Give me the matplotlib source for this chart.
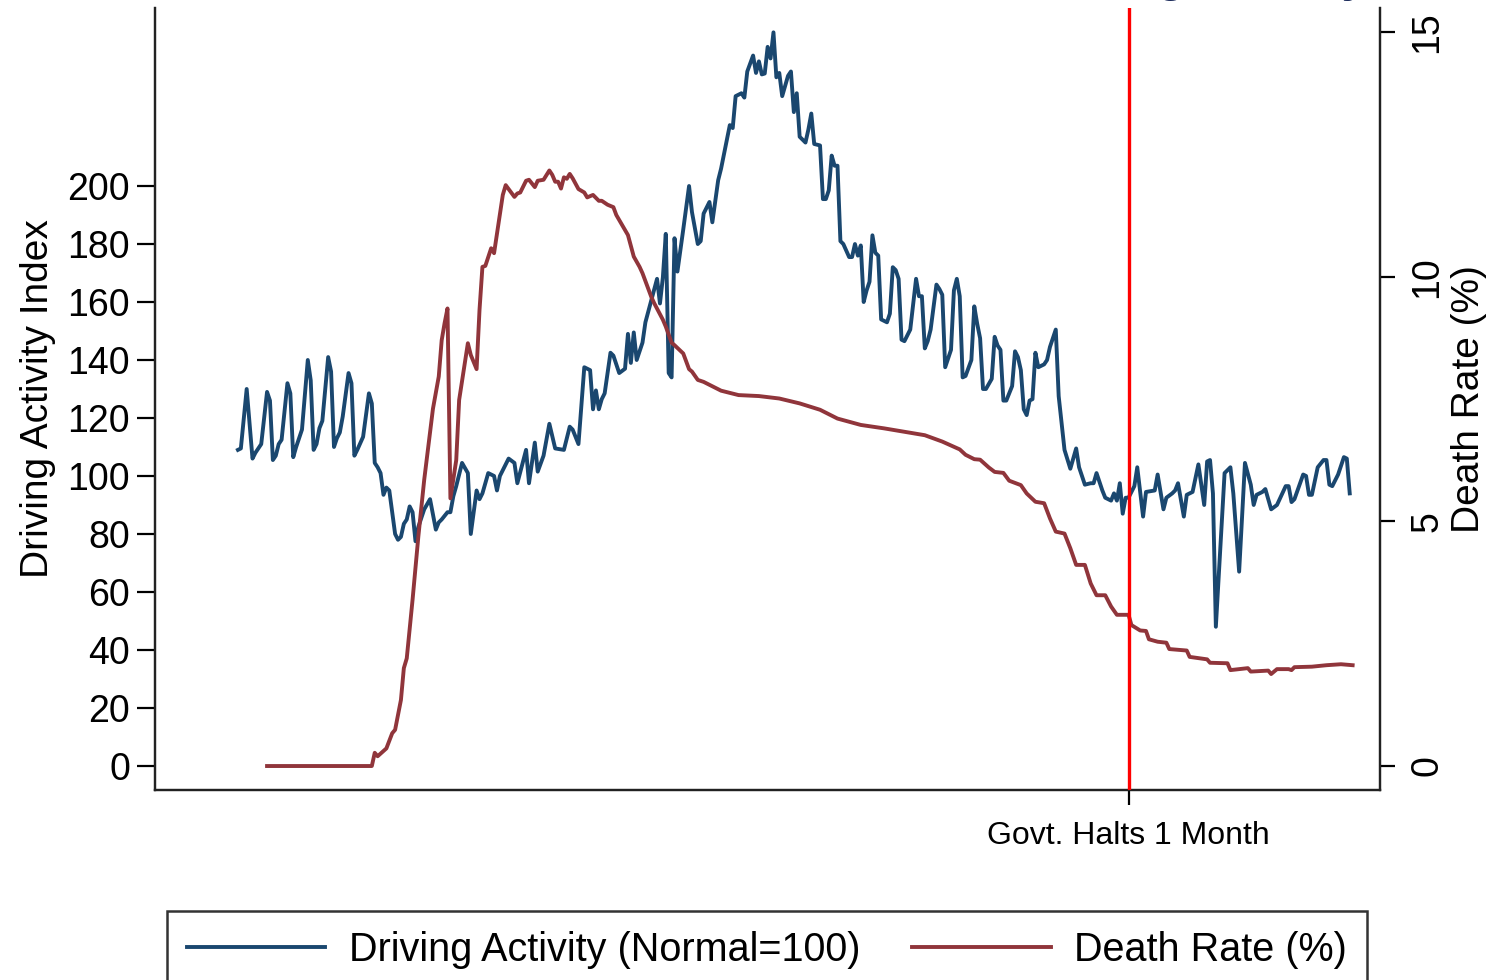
import numpy as np
import matplotlib
matplotlib.use("Agg")
import matplotlib.pyplot as plt

plt.rcParams['font.family'] = ['Liberation Sans', 'DejaVu Sans']

# driving activity index (Normal=100), days since start of series
drive_day = [0, 1, 3, 5, 6, 8, 10, 11, 12, 13, 14, 15, 17, 18, 19, 20, 22, 24, 25, 26,
             27, 28, 29, 31, 32, 33, 34, 35, 36, 38, 39, 40, 41, 43, 45, 46, 47, 48, 49, 50,
             51, 52, 54, 55, 56, 57, 58, 59, 60, 61, 62, 64, 66, 68, 69, 70, 72, 73, 74, 75,
             77, 79, 80, 82, 83, 84, 86, 88, 89, 90, 91, 93, 95, 96, 99, 100, 102, 103, 105, 107,
             109, 112, 114, 115, 117, 119, 121, 122, 123, 124, 125, 126, 128, 129, 131, 133, 134, 135, 136, 137,
             139, 140, 142, 144, 145, 146, 147, 148, 149, 150, 151, 153, 155, 156, 158, 159, 160, 162, 163, 165,
             166, 169, 170, 171, 173, 174, 175, 177, 178, 179, 180, 181, 182, 183, 184, 185, 186, 187, 189, 190,
             191, 192, 193, 195, 196, 197, 198, 200, 201, 202, 203, 204, 205, 206, 207, 208, 210, 211, 212, 213,
             214, 215, 216, 217, 218, 219, 220, 221, 223, 224, 225, 226, 227, 228, 229, 231, 233, 234, 235, 236,
             237, 238, 240, 241, 242, 243, 244, 245, 246, 247, 248, 249, 250, 252, 253, 254, 255, 256, 257, 259,
             260, 261, 262, 263, 264, 266, 267, 268, 269, 270, 271, 272, 273, 274, 275, 277, 278, 279, 281, 282,
             284, 286, 288, 289, 291, 293, 294, 295, 297, 298, 300, 301, 302, 303, 304, 305, 306, 308, 309, 311,
             312, 315, 316, 318, 319, 321, 322, 323, 325, 326, 328, 330, 332, 333, 334, 335, 336, 339, 341, 342,
             344, 346, 348, 349, 350, 352, 353, 355, 357, 360, 361, 362, 363, 366, 367, 368, 369, 371, 373, 374,
             375, 376, 378, 380, 381, 382]
drive_val = [109, 109.5, 130, 106, 108, 111, 129, 126, 105.5, 107, 111, 112.5, 132, 128.5, 106.5, 110, 116, 140, 133, 109,
             111, 116.5, 119, 141, 136, 110, 113, 115, 120.5, 135.5, 132, 107, 109, 113.5, 128.5, 125, 104.5, 103, 101, 93.5,
             96, 95, 80, 78, 79, 83.5, 85, 89.5, 87.5, 77.5, 82.5, 88.5, 92, 81.5, 84, 85, 87.5, 87.5, 93, 96.5,
             104.5, 101, 80, 95, 92, 94, 101, 100, 95, 100, 102, 106, 104.5, 97.5, 109, 97.5, 111.5, 101.5, 107, 118,
             109.5, 109, 117, 116, 111, 137.5, 136.5, 123, 129.5, 123, 126.5, 128.5, 142.5, 141.5, 135.5, 137, 149, 139, 149.5, 140,
             146, 153, 160.5, 168, 159.5, 168.5, 183.5, 135.5, 134, 182, 170.5, 185, 200, 191, 180, 181, 190.5, 194.5, 187.5, 202,
             206, 221, 220, 231, 232, 230.5, 239.5, 245, 239, 243, 238.5, 238.8, 248, 244, 253, 237.5, 239, 231, 238, 239.5,
             225.5, 232, 217, 215, 219.5, 225, 214.5, 214, 195.5, 195.5, 198.5, 210.5, 207, 207, 181, 180, 175.5, 175.5, 180, 176,
             179.5, 160, 164, 167, 183, 177, 176, 154, 153, 156, 172, 171, 168, 147, 146.5, 150.5, 168, 162, 162, 144,
             146.5, 150.5, 166, 164.5, 162.5, 137.5, 140.5, 143.5, 164, 168, 162, 134, 134.5, 140, 158.5, 152.5, 147.5, 130, 130, 133.5,
             148, 145, 143.5, 126, 126, 131, 143, 141, 136.5, 123, 121, 126, 126.5, 142.5, 137.5, 138.5, 140, 144.5, 150.5, 127.5,
             109, 102.5, 109.5, 103, 97, 97.5, 97.5, 101, 95, 92.5, 91.5, 94, 91.5, 97.5, 87, 92.5, 92.5, 96.5, 103, 86,
             94.5, 95, 100.5, 88.5, 92.5, 94, 95, 97.5, 86, 93.5, 94.5, 104, 90, 105, 105.5, 94, 48, 101, 103, 94,
             67, 104.5, 97, 90, 93.5, 94.5, 95.5, 88.5, 90, 96.5, 96.5, 91, 92, 100.5, 100, 93.5, 93.5, 103, 105.5, 105.5,
             97, 96.5, 100.5, 106.5, 106, 94]

# death rate (%), same day scale
death_day = [10, 46, 47, 48, 51, 53, 54, 56, 57, 58, 60, 62, 64, 67, 69, 70, 71, 72, 73, 75,
             76, 79, 80, 82, 83, 84, 85, 87, 88, 91, 92, 95, 96, 97, 99, 100, 102, 103, 105, 107,
             108, 109, 110, 111, 112, 113, 114, 115, 117, 119, 120, 122, 124, 125, 127, 129, 130, 134, 136, 138,
             139, 142, 143, 146, 147, 149, 150, 153, 155, 156, 158, 160, 166, 172, 179, 186, 193, 200, 206, 214,
             222, 229, 236, 242, 248, 250, 253, 255, 258, 260, 263, 265, 269, 271, 274, 277, 279, 281, 284, 286,
             288, 291, 293, 295, 298, 300, 302, 306, 307, 310, 312, 313, 316, 319, 320, 326, 327, 333, 334, 340,
             341, 347, 348, 354, 355, 357, 361, 362, 363, 369, 374, 379, 383]
death_val = [0, 0, 0.27, 0.2, 0.36, 0.67, 0.74, 1.35, 2.0, 2.2, 3.4, 4.7, 5.85, 7.3, 7.96, 8.7, 9.05, 9.35, 5.47, 6.25,
             7.48, 8.64, 8.4, 8.11, 9.32, 10.2, 10.22, 10.58, 10.48, 11.67, 11.87, 11.63, 11.7, 11.72, 11.96, 11.98, 11.83, 11.96, 11.98, 12.17,
             12.08, 11.94, 11.94, 11.8, 12.03, 12.0, 12.1, 12.01, 11.79, 11.72, 11.62, 11.67, 11.55, 11.55, 11.47, 11.42, 11.26, 10.85, 10.41, 10.2,
             10.07, 9.59, 9.46, 9.12, 8.98, 8.65, 8.6, 8.43, 8.11, 8.06, 7.89, 7.85, 7.67, 7.58, 7.56, 7.51, 7.41, 7.28, 7.1, 6.97,
             6.9, 6.83, 6.76, 6.63, 6.47, 6.36, 6.27, 6.26, 6.1, 6.01, 5.99, 5.83, 5.74, 5.57, 5.4, 5.37, 5.06, 4.79, 4.75, 4.45,
             4.11, 4.11, 3.73, 3.49, 3.49, 3.26, 3.09, 3.09, 2.88, 2.77, 2.76, 2.59, 2.54, 2.52, 2.39, 2.36, 2.23, 2.18, 2.11, 2.1,
             1.96, 2.0, 1.93, 1.95, 1.88, 1.98, 1.98, 1.96, 2.02, 2.03, 2.06, 2.08, 2.06]

event_day = 306
event_label = "Govt. Halts 1 Month"

left_ticks = list(range(0, 201, 20))
right_ticks = [0, 5, 10, 15]

navy = "#1a476f"
maroon = "#90353b"

fig = plt.figure(figsize=(14.96, 9.8), dpi=100)
ax = fig.add_axes([155/1496, 1 - 790/980, (1380-155)/1496, (790-8)/980])
ax2 = ax.twinx()

l1, = ax.plot(drive_day, drive_val, color=navy, lw=2.8, label="Driving Activity (Normal=100)")
l2, = ax2.plot(death_day, death_val, color=maroon, lw=2.8, label="Death Rate (%)")
ax2.axvline(event_day, color="#ff0000", lw=2.4, zorder=5)

ax.set_xlim(-28.5, 392.4)
ax.set_ylim(-8.3, 261.4)
ax2.set_ylim(-0.49, 15.49)

ax.set_yticks(left_ticks)
ax2.set_yticks(right_ticks)
ax.set_xticks([event_day])
ax.set_xticklabels([event_label])

for a in (ax, ax2):
    a.spines['top'].set_visible(False)
    for s in a.spines.values():
        s.set_linewidth(1.6)
        s.set_color("#222222")
    a.patch.set_visible(False)

ax.tick_params(axis='y', length=13, width=1.6, labelsize=27, pad=5)
ax.tick_params(axis='x', length=11, width=1.6, labelsize=23, pad=11)
ax2.tick_params(axis='y', length=11, width=1.6, labelsize=27, pad=10, labelrotation=90)
for t in ax2.get_yticklabels():
    t.set_verticalalignment('center')

ax.set_ylabel("Driving Activity Index", fontsize=28, labelpad=8)
ax2.set_ylabel("Death Rate (%)", fontsize=28, labelpad=4)

# title cut off by the top of the image
fig.text(1368/1496, 1 + 9/980, "Driving Activity", ha='right', va='baseline',
         fontsize=34, fontweight='bold', color="#1a2a5a")

leg = fig.legend(handles=[l1, l2], loc='upper center', bbox_to_anchor=(767/1496, 1 - 911/980),
                 ncol=2, fontsize=28.5, frameon=True, fancybox=False, borderpad=0.5,
                 handlelength=3.5, handletextpad=0.6, columnspacing=1.3, borderaxespad=0)
leg.get_frame().set_edgecolor("black")
leg.get_frame().set_linewidth(1.8)

fig.savefig("out.png", dpi=100)
